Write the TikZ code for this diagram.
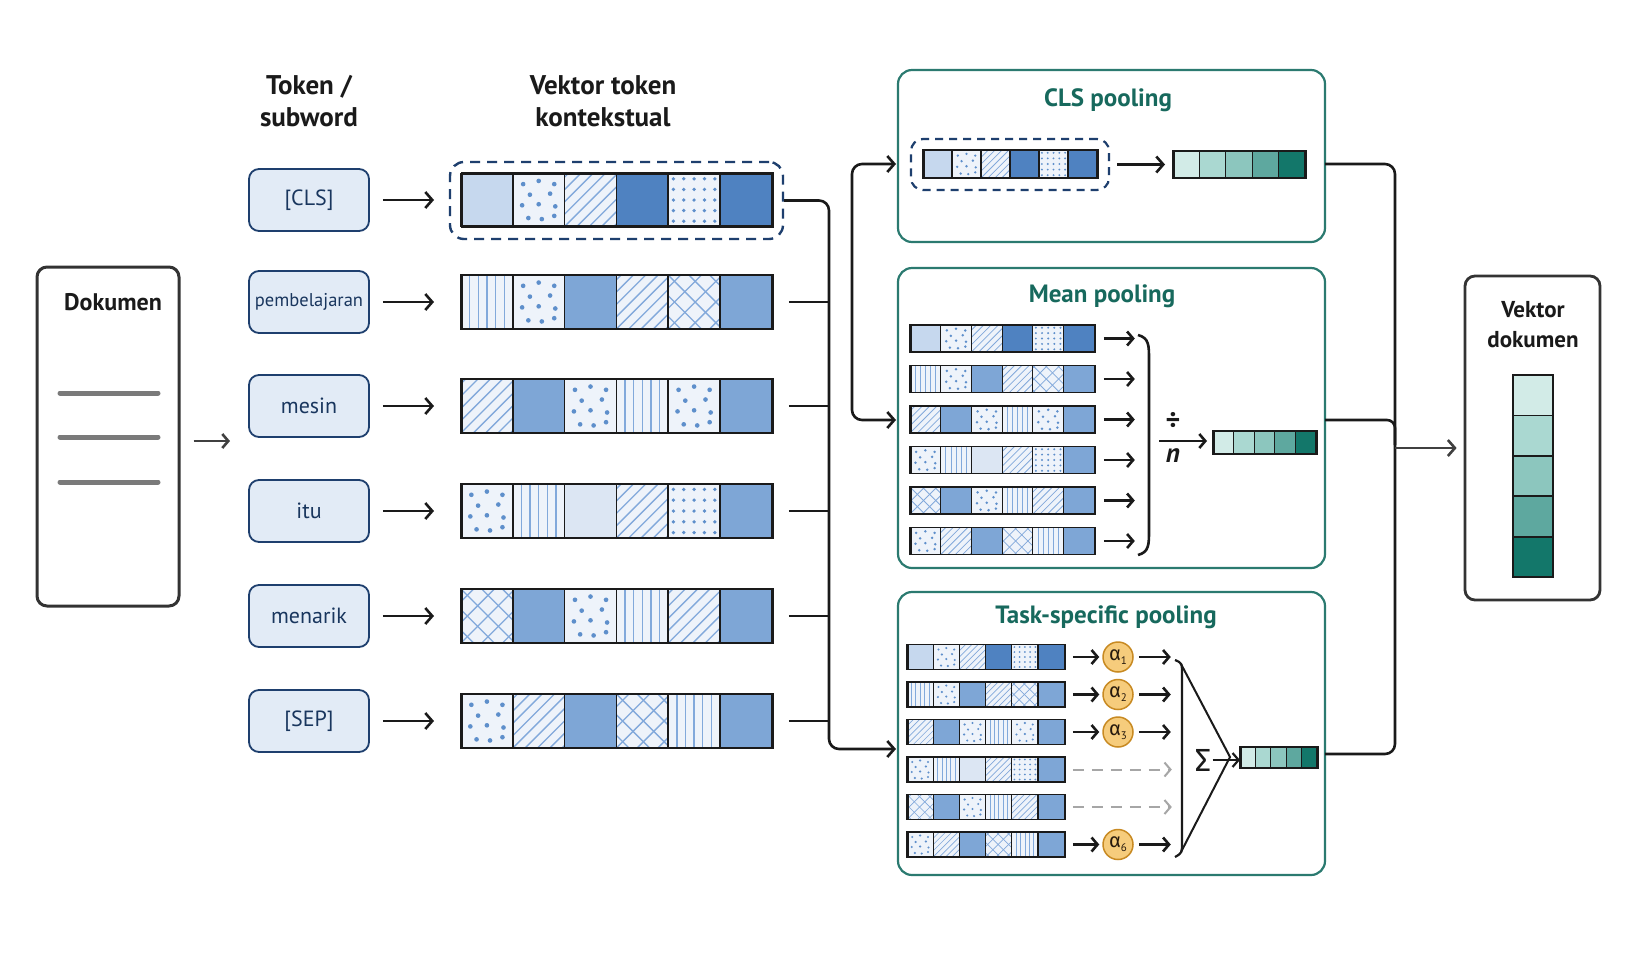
\documentclass[tikz,border=0pt]{standalone}
\usepackage{fontspec}
\setmainfont{PT Sans}
\newfontfamily\grk{Fira Sans}
\usetikzlibrary{arrows.meta,calc}

\definecolor{navy}{HTML}{1E3F6E}
\definecolor{tokfill}{HTML}{E2EBF6}
\definecolor{tealT}{HTML}{17695D}
\definecolor{tealB}{HTML}{2B7A70}
\definecolor{cL}{HTML}{C6D8EE}
\definecolor{cE}{HTML}{DCE6F3}
\definecolor{cD}{HTML}{4F82C1}
\definecolor{cM}{HTML}{7EA6D6}
\definecolor{cP}{HTML}{EEF3FA}
\definecolor{patc}{HTML}{82A9DB}
\definecolor{dotc}{HTML}{5E8FCB}
\definecolor{t1}{HTML}{D2EBE7}
\definecolor{t2}{HTML}{AAD8D1}
\definecolor{t3}{HTML}{8CC6BE}
\definecolor{t4}{HTML}{5EA89F}
\definecolor{t5}{HTML}{13776A}
\definecolor{gold}{HTML}{F6CC7C}
\definecolor{goldB}{HTML}{C88A22}
\definecolor{ink}{HTML}{1A1A1A}
\definecolor{docline}{HTML}{7A7A7A}

\newcommand\patfill[4]{\fill[cP] (#1,#2) rectangle ++(#3,#4);}
\newcommand\patL[4]{\fill[cL] (#1,#2) rectangle ++(#3,#4);}
\newcommand\patE[4]{\fill[cE] (#1,#2) rectangle ++(#3,#4);}
\newcommand\patD[4]{\fill[cD] (#1,#2) rectangle ++(#3,#4);}
\newcommand\patM[4]{\fill[cM] (#1,#2) rectangle ++(#3,#4);}
\newcommand\pata[4]{\fill[t1] (#1,#2) rectangle ++(#3,#4);}
\newcommand\patb[4]{\fill[t2] (#1,#2) rectangle ++(#3,#4);}
\newcommand\patc[4]{\fill[t3] (#1,#2) rectangle ++(#3,#4);}
\newcommand\patd[4]{\fill[t4] (#1,#2) rectangle ++(#3,#4);}
\newcommand\pate[4]{\fill[t5] (#1,#2) rectangle ++(#3,#4);}
\newcommand\patH[4]{\patfill{#1}{#2}{#3}{#4}%
  \pgfmathsetmacro\hsp{#3/4.2}\pgfmathsetmacro\plw{#3*0.026}%
  \foreach \k in {-6,...,6}{\draw[patc,line width=\plw pt] ({#1+(\k)*\hsp},{#2+#4}) -- ++(#4,-#4);}}
\newcommand\patX[4]{\patfill{#1}{#2}{#3}{#4}%
  \pgfmathsetmacro\hsp{#3/2.5}\pgfmathsetmacro\plw{#3*0.026}%
  \foreach \k in {-4,...,4}{\draw[patc,line width=\plw pt] ({#1+(\k)*\hsp},{#2+#4}) -- ++(#4,-#4);
    \draw[patc,line width=\plw pt] ({#1+(\k)*\hsp},{#2}) -- ++(#4,#4);}}
\newcommand\patV[4]{\patfill{#1}{#2}{#3}{#4}%
  \pgfmathsetmacro\plw{#3*0.026}%
  \foreach \k in {1,...,5}{\draw[patc,line width=\plw pt] ({#1+\k*#3/6},{#2}) -- ++(0,#4);}}
\newcommand\patS[4]{\patfill{#1}{#2}{#3}{#4}%
  \pgfmathsetmacro\dr{#3*0.045}%
  \foreach \pa/\pb in {.2/.2,.5/.14,.8/.2,.33/.4,.72/.38,.18/.6,.5/.58,.82/.62,.3/.84,.56/.86,.8/.8}{\fill[dotc] ({#1+\pa*#3},{#2+\pb*#4}) circle[radius=\dr pt];}}
\newcommand\patG[4]{\patfill{#1}{#2}{#3}{#4}%
  \pgfmathsetmacro\dr{#3*0.036}%
  \foreach \gi in {0,...,4}{\foreach \gj in {0,...,4}{\fill[dotc] ({#1+(\gi+0.5)*#3/5},{#2+(\gj+0.5)*#4/5}) circle[radius=\dr pt];}}}

\newcommand\vcell[5]{\begin{scope}\clip (#2,#3) rectangle ++(#4,#5);\csname pat#1\endcsname{#2}{#3}{#4}{#5}\end{scope}%
  \draw[ink,line width=\cbw pt] (#2,#3) rectangle ++(#4,#5);}
% name, x, ycenter, cell width, height, n, list
\newcommand\vrow[7]{%
  \pgfmathsetmacro\rtop{#3-#5/2}%
  \pgfmathsetmacro\cbw{max(1.1,#4*0.034)}%
  \pgfmathsetmacro\obw{max(1.6,#4*0.042)}%
  \pgfmathsetmacro\rwid{#6*#4}%
  \foreach \ctype [count=\cidx from 0] in {#7}{\pgfmathsetmacro\cellx{#2+\cidx*#4}\vcell{\ctype}{\cellx}{\rtop}{#4}{#5}}%
  \node[draw=ink,line width=\obw pt,inner sep=0pt,minimum width=\rwid pt,minimum height=#5pt,anchor=west] (#1) at (#2,#3) {};}

\newcommand\alp[1]{{\grk α}\raisebox{-4pt}{\fontsize{11}{11}\selectfont #1}}

\tikzset{
  conn/.style={line width=2.6pt, draw=ink},
  arr/.style={-{Straight Barb[length=7pt,width=16pt]}},
  sarr/.style={-{Straight Barb[length=6pt,width=14pt]}},
  hdr/.style={font=\bfseries\fontsize{27}{32}\selectfont, align=center, text=ink},
  tok/.style={draw=navy, fill=tokfill, line width=1.8pt, rounded corners=10pt, minimum width=120pt, minimum height=62pt, text=navy!85!black, font=\fontsize{22}{26}\selectfont},
  pbox/.style={draw=tealB, line width=2.2pt, rounded corners=14pt},
  ptitle/.style={text=tealT, font=\bfseries\fontsize{25}{30}\selectfont},
  dashbox/.style={draw=navy, line width=2.4pt, dash pattern=on 10pt off 7pt, rounded corners=14pt},
  alpha/.style={circle, draw=goldB, fill=gold, line width=1.5pt, minimum size=30pt, inner sep=0pt, text=black!80!brown, font=\fontsize{20}{20}\selectfont},
}

\begin{document}
\begin{tikzpicture}[x=1pt,y=-1pt]
\useasboundingbox (0,0) rectangle (1635,962);
\fill[white] (0,0) rectangle (1635,962);

% headers
\node[hdr] (h1) at (309,101) {Token /\\subword};
\node[hdr] (h2) at (603,101) {Vektor token\\kontekstual};

% document
\node[draw=black!80, line width=3pt, rounded corners=10pt, minimum width=142pt, minimum height=339pt] (doc) at (108,436.5) {};
\node[font=\bfseries\fontsize{24}{28}\selectfont, text=ink] (doct) at (113,302) {Dokumen};
\foreach \yy in {393,437,482} \draw[docline, line width=5pt, line cap=round] (60,\yy) -- (158,\yy);
\coordinate (tokIn) at (230,441);
\draw[conn, draw=black!75, sarr, shorten <=13pt] ([yshift=-4.5pt]doc.east) -- (tokIn);

% tokens
\node[tok] (t1) at (309,200) {[CLS]};
\node[tok, font=\fontsize{18.5}{22}\selectfont] (t2) at (309,302) {pembelajaran};
\node[tok] (t3) at (309,406) {mesin};
\node[tok] (t4) at (309,511) {itu};
\node[tok] (t5) at (309,616) {menarik};
\node[tok] (t6) at (309,721) {[SEP]};

% main vectors
\vrow{v1}{461}{200}{51.8}{53}{6}{L,S,H,D,G,D}
\vrow{v2}{461}{302}{51.8}{54}{6}{V,S,M,H,X,M}
\vrow{v3}{461}{406}{51.8}{54}{6}{H,M,S,V,S,M}
\vrow{v4}{461}{511}{51.8}{54}{6}{S,V,E,H,G,M}
\vrow{v5}{461}{616}{51.8}{54}{6}{X,M,S,V,H,M}
\vrow{v6}{461}{721}{51.8}{54}{6}{S,H,M,X,V,M}
\node[dashbox, minimum width=333pt, minimum height=77pt] (dash) at (616.5,200.5) {};

\foreach \i in {1,...,6}{\draw[conn, arr, shorten <=13pt, shorten >=27pt] (t\i.east) -- (v\i.west);}

% pooling boxes
\node[pbox, minimum width=427pt, minimum height=172pt] (clsbox) at (1111.5,156) {};
\node[pbox, minimum width=427pt, minimum height=300pt] (meanbox) at (1111.5,418) {};
\node[pbox, minimum width=427pt, minimum height=283pt] (taskbox) at (1111.5,733.5) {};
\node[ptitle] (clst) at (1108,100) {CLS pooling};
\node[ptitle] (meant) at (1102,296) {Mean pooling};
\node[ptitle] (taskt) at (1106,617) {Task-specific pooling};

% left bus
\coordinate (bx) at (829,0);
\coordinate (tIn) at (896,749);
\draw[conn, rounded corners=10pt, arr] (dash.east) -| (bx |- tIn) -- (tIn);
\foreach \i in {2,...,6}{\draw[conn, shorten <=15pt] (v\i.east) -- (bx |- v\i.east);}
\coordinate (cIn) at (896,164);
\coordinate (mIn) at (896,420);
\draw[conn, rounded corners=10pt, {Straight Barb[length=7pt,width=16pt]}-{Straight Barb[length=7pt,width=16pt]}] (cIn) -| (852,420) -- (mIn);

% CLS pooling content
\vrow{c1}{923}{164}{29}{28}{6}{L,S,H,D,G,D}
\node[dashbox, line width=2.2pt, dash pattern=on 8pt off 6pt, rounded corners=12pt, minimum width=198pt, minimum height=51pt] (cdash) at (1010,164.5) {};
\vrow{co}{1173}{164.5}{26.4}{27}{5}{a,b,c,d,e}
\draw[conn, arr, shorten <=7pt, shorten >=8pt] (cdash.east) -- (co.west);

% Mean pooling content
\vrow{m1}{910}{338.5}{30.7}{27}{6}{L,S,H,D,G,D}
\vrow{m2}{910}{379}{30.7}{27}{6}{V,S,M,H,X,M}
\vrow{m3}{910}{419.5}{30.7}{27}{6}{H,M,S,V,S,M}
\vrow{m4}{910}{460}{30.7}{27}{6}{S,V,E,H,G,M}
\vrow{m5}{910}{500.5}{30.7}{27}{6}{X,M,S,V,H,M}
\vrow{m6}{910}{541}{30.7}{27}{6}{S,H,M,X,V,M}
\foreach \i in {1,...,6}{\draw[conn, sarr] ([xshift=8pt]m\i.east) -- ++(31,0);}
\draw[conn] (1138,335) .. controls (1149,338) and (1149,345) .. (1149,360) -- (1149,530) .. controls (1149,545) and (1149,552) .. (1138,555);
\node[font=\bfseries\fontsize{28}{30}\selectfont, text=ink] (dv) at (1173,421) {÷};
\node[font=\bfseries\itshape\fontsize{27}{28}\selectfont, text=ink] (nn) at (1173,456) {n};
\vrow{mo}{1213}{442.5}{20.6}{23}{5}{a,b,c,d,e}
\coordinate (dvS) at (1159,441);
\draw[conn, sarr, shorten >=6pt] (dvS) -- (mo.west |- dvS);

% Task-specific content
\vrow{k1}{907}{657}{26.2}{25}{6}{L,S,H,D,G,D}
\vrow{k2}{907}{694.5}{26.2}{25}{6}{V,S,M,H,X,M}
\vrow{k3}{907}{732}{26.2}{25}{6}{H,M,S,V,S,M}
\vrow{k4}{907}{769.5}{26.2}{25}{6}{S,V,E,H,G,M}
\vrow{k5}{907}{807}{26.2}{25}{6}{X,M,S,V,H,M}
\vrow{k6}{907}{844.5}{26.2}{25}{6}{S,H,M,X,V,M}
\foreach \i/\yy in {1/657,2/694.5,3/732,6/844.5}{
  \node[alpha] (a\i) at (1118,\yy) {\alp{\i}};
  \draw[conn, sarr, shorten >=3pt] ([xshift=7pt]k\i.east) -- (a\i.west);
  \draw[conn, sarr, shorten <=5pt] (a\i.east) -- ++(37,0);
}
\foreach \i in {4,5}{\draw[line width=2pt, draw=black!35, dash pattern=on 11pt off 8pt, sarr] ([xshift=7pt]k\i.east) -- ++(99,0);}
\draw[conn, line width=2.2pt] (1175,660) .. controls (1182,663) .. (1182,675) -- (1182,842) .. controls (1182,853) .. (1175,857);
\draw[conn, line width=2pt] (1181,664) -- (1230,757) -- (1181,852);
\node[font=\grk\fontsize{32}{34}\selectfont, text=ink] (sig) at (1203,760) {Σ};
\vrow{to}{1240}{757.5}{15.4}{21}{5}{a,b,c,d,e}
\draw[conn, line width=2.2pt, sarr, shorten <=-2pt] (sig.east) -- (to.west |- sig.east);

% right bus
\coordinate (rx) at (1395,0);
\coordinate (cOut) at (1325,164);
\coordinate (mOut) at (1325,420);
\coordinate (kOut) at (1325,754);
\draw[conn, rounded corners=10pt] (cOut) -| (rx |- kOut) -- (kOut);
\draw[conn, rounded corners=8pt] (mOut) -- (rx |- mOut) -- ++(0,25);
\coordinate (bOut) at (1395,448);

% Vektor dokumen
\node[draw=black!80, line width=2.8pt, rounded corners=10pt, minimum width=135pt, minimum height=324pt] (vd) at (1532.5,438) {};
\node[font=\bfseries\fontsize{23}{30}\selectfont, align=center, text=ink] (vdt) at (1533,325) {Vektor\\dokumen};
\foreach \k/\c in {0/t1,1/t2,2/t3,3/t4,4/t5}{\fill[\c] (1513,{375+\k*40.4}) rectangle ++(40,40.4);
  \draw[ink, line width=1.8pt] (1513,{375+\k*40.4}) rectangle ++(40,40.4);}
\draw[conn, draw=black!75, arr, shorten >=7pt] (bOut) -- (vd.west |- bOut);
\end{tikzpicture}
\end{document}
